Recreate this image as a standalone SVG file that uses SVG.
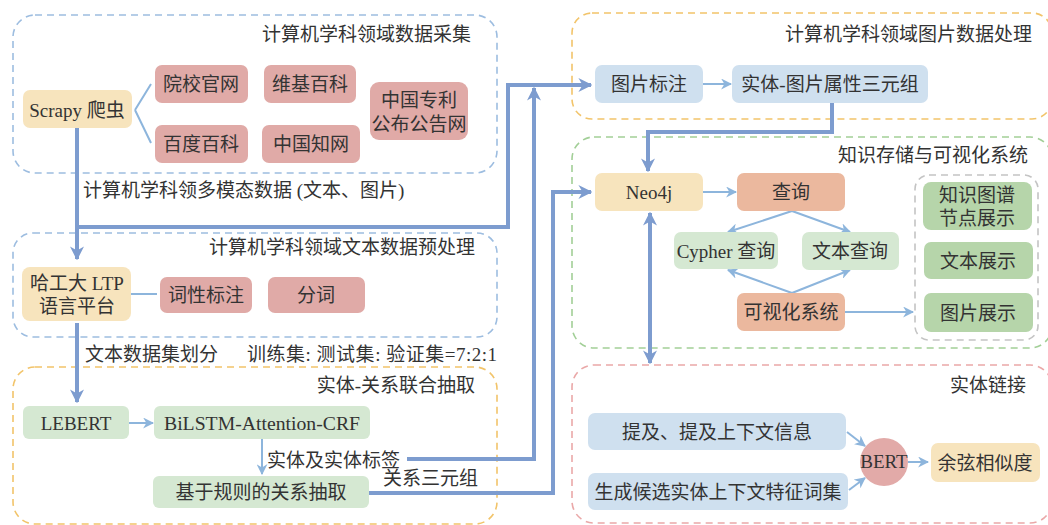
<svg xmlns="http://www.w3.org/2000/svg" width="1048" height="525" viewBox="0 0 1048 525">
  <defs>
    <marker id="thick" viewBox="0 0 10 10" refX="9" refY="5" markerWidth="14" markerHeight="14" markerUnits="userSpaceOnUse" orient="auto-start-reverse">
      <path d="M0,0 L10,5 L0,10 L3,5 Z" fill="#7d9ccf"/>
    </marker>
    <marker id="thin" viewBox="0 0 10 10" refX="9" refY="5" markerWidth="11" markerHeight="11" markerUnits="userSpaceOnUse" orient="auto">
      <path d="M0,0 L10,5 L0,10 L3,5 Z" fill="#8db5dc"/>
    </marker>
    <style>
      text { font-family: "Liberation Serif", "Noto Sans CJK SC", serif; font-size: 19px; fill: #333; }
      .c { text-anchor: middle; dominant-baseline: central; }
      .r { text-anchor: end; }
      .grp { fill: none; stroke-width: 1.6; stroke-dasharray: 7 5; }
      .g-blue { stroke: #9dbde0; }
      .g-orange { stroke: #f2c46a; }
      .g-green { stroke: #a2cf97; }
      .g-pink { stroke: #eaa8a8; }
      .g-gray { stroke: #c4c4c4; }
      .yellow { fill: #f7e4bd; }
      .red { fill: #e0aaa7; }
      .blue { fill: #cfe0ef; }
      .lgreen { fill: #d5e8d2; }
      .dgreen { fill: #b6d5aa; }
      .salmon { fill: #ebb89e; }
      .thick { fill: none; stroke: #7d9ccf; stroke-width: 4; }
      .thin { fill: none; stroke: #8db5dc; stroke-width: 2; }
    </style>
  </defs>

  <!-- section frames -->
  <g id="frames">
    <rect class="grp g-blue" x="13" y="15" width="484" height="158" rx="22"/>
    <text class="r" x="471" y="41">计算机学科领域数据采集</text>
    <rect class="grp g-blue" x="13" y="233" width="484" height="104" rx="20"/>
    <text class="r" x="475" y="254">计算机学科领域文本数据预处理</text>
    <rect class="grp g-orange" x="13" y="367" width="484" height="157" rx="22"/>
    <text class="r" x="475" y="392">实体-关系联合抽取</text>
    <rect class="grp g-orange" x="572" y="13" width="480" height="106" rx="20"/>
    <text class="r" x="1032" y="41">计算机学科领域图片数据处理</text>
    <rect class="grp g-green" x="572" y="137" width="480" height="211" rx="22"/>
    <text class="r" x="1028" y="162">知识存储与可视化系统</text>
    <rect class="grp g-gray" x="915" y="175" width="123" height="165" rx="14"/>
    <rect class="grp g-pink" x="572" y="365" width="480" height="158" rx="22"/>
    <text class="r" x="1026" y="392">实体链接</text>
  </g>

  <!-- connectors -->
  <g id="connectors">
    <path class="thin" d="M135,110 L151,84 M135,110 L151,143"/>
    <path class="thin" d="M131,294 L157,294"/>
    <path class="thick" d="M77,128 L77,259" marker-end="url(#thick)"/>
    <path class="thick" d="M77,227 L508,227 L508,85 L591,85" marker-end="url(#thick)"/>
    <path class="thick" d="M77,323 L77,402" marker-end="url(#thick)"/>
    <path class="thin" d="M129,423 L153,423" marker-end="url(#thin)"/>
    <path class="thin" d="M262,439 L262,474" marker-end="url(#thin)"/>
    <path class="thick" d="M407,459 L534,459 L534,88" marker-end="url(#thick)"/>
    <path class="thick" d="M368,493 L553,493 L553,192 L591,192" marker-end="url(#thick)"/>
    <path class="thin" d="M703,84 L731,84" marker-end="url(#thin)"/>
    <path class="thick" d="M832,103 L832,132 L648,132 L648,171" marker-end="url(#thick)"/>
    <path class="thin" d="M703,192 L736,192" marker-end="url(#thin)"/>
    <path class="thin" d="M792,211 L728,232" marker-end="url(#thin)"/>
    <path class="thin" d="M792,211 L850,232" marker-end="url(#thin)"/>
    <path class="thin" d="M792,293 L728,270" marker-end="url(#thin)"/>
    <path class="thin" d="M792,293 L850,270" marker-end="url(#thin)"/>
    <path class="thin" d="M845,312 L913,312" marker-end="url(#thin)"/>
    <path class="thick" d="M650,213 L650,363" marker-start="url(#thick)" marker-end="url(#thick)"/>
    <path class="thin" d="M847,432 L865,446" marker-end="url(#thin)"/>
    <path class="thin" d="M849,490 L865,478" marker-end="url(#thin)"/>
    <path class="thin" d="M908,462 L928,462" marker-end="url(#thin)"/>
    <text x="83" y="197">计算机学科领多模态数据 (文本、图片)</text>
    <text x="85" y="361">文本数据集划分</text>
    <text x="247" y="361" textLength="250" lengthAdjust="spacing">训练集: 测试集: 验证集=7:2:1</text>
    <text x="267" y="467">实体及实体标签</text>
    <text x="383" y="485">关系三元组</text>
  </g>

  <!-- data collection -->
  <g id="scrapy"><rect class="yellow" x="23" y="90" width="109" height="38" rx="7"/><text class="c" x="77" y="110">Scrapy 爬虫</text></g>
  <g id="n-college"><rect class="red" x="155" y="65" width="93" height="38" rx="7"/><text class="c" x="201" y="84">院校官网</text></g>
  <g id="n-wiki"><rect class="red" x="264" y="65" width="92" height="38" rx="7"/><text class="c" x="310" y="84">维基百科</text></g>
  <g id="n-baidu"><rect class="red" x="155" y="125" width="93" height="38" rx="7"/><text class="c" x="201" y="144">百度百科</text></g>
  <g id="n-cnki"><rect class="red" x="262" y="125" width="98" height="38" rx="7"/><text class="c" x="311" y="144">中国知网</text></g>
  <g id="n-patent"><rect class="red" x="370" y="82" width="98" height="58" rx="9"/><text class="c" x="419" y="100">中国专利</text><text class="c" x="419" y="124">公布公告网</text></g>

  <!-- text preprocessing -->
  <g id="ltp"><rect class="yellow" x="22" y="267" width="109" height="54" rx="8"/><text class="c" x="77" y="283">哈工大 LTP</text><text class="c" x="77" y="306">语言平台</text></g>
  <g id="pos"><rect class="red" x="160" y="277" width="92" height="36" rx="7"/><text class="c" x="206" y="295">词性标注</text></g>
  <g id="seg"><rect class="red" x="268" y="277" width="97" height="36" rx="7"/><text class="c" x="316" y="295">分词</text></g>

  <!-- joint extraction -->
  <g id="lebert"><rect class="lgreen" x="23" y="406" width="106" height="33" rx="6"/><text class="c" x="76" y="423">LEBERT</text></g>
  <g id="bilstm"><rect class="lgreen" x="154" y="406" width="216" height="33" rx="6"/><text class="c" x="262" y="423" textLength="196" lengthAdjust="spacingAndGlyphs">BiLSTM-Attention-CRF</text></g>
  <g id="rule"><rect class="lgreen" x="153" y="476" width="216" height="32" rx="6"/><text class="c" x="261" y="492">基于规则的关系抽取</text></g>

  <!-- image processing -->
  <g id="img-label"><rect class="blue" x="595" y="65" width="108" height="38" rx="7"/><text class="c" x="649" y="84">图片标注</text></g>
  <g id="img-triple"><rect class="blue" x="732" y="65" width="196" height="38" rx="7"/><text class="c" x="830" y="84">实体-图片属性三元组</text></g>

  <!-- storage and visualization -->
  <g id="neo4j"><rect class="yellow" x="595" y="173" width="108" height="38" rx="7"/><text class="c" x="649" y="192">Neo4j</text></g>
  <g id="query"><rect class="salmon" x="737" y="173" width="108" height="38" rx="7"/><text class="c" x="791" y="192">查询</text></g>
  <g id="cypher"><rect class="lgreen" x="674" y="232" width="104" height="37" rx="7"/><text class="c" x="726" y="251">Cypher 查询</text></g>
  <g id="text-query"><rect class="lgreen" x="802" y="232" width="97" height="38" rx="7"/><text class="c" x="850" y="251">文本查询</text></g>
  <g id="vis"><rect class="salmon" x="737" y="293" width="108" height="38" rx="7"/><text class="c" x="791" y="312">可视化系统</text></g>
  <g id="kg-show"><rect class="dgreen" x="923" y="182" width="109" height="48" rx="8"/><text class="c" x="977" y="195">知识图谱</text><text class="c" x="977" y="218">节点展示</text></g>
  <g id="text-show"><rect class="dgreen" x="924" y="242" width="109" height="37" rx="7"/><text class="c" x="978" y="261">文本展示</text></g>
  <g id="img-show"><rect class="dgreen" x="924" y="293" width="109" height="39" rx="7"/><text class="c" x="978" y="313">图片展示</text></g>

  <!-- entity linking -->
  <g id="mention"><rect class="blue" x="588" y="413" width="258" height="37" rx="7"/><text class="c" x="717" y="432">提及、提及上下文信息</text></g>
  <g id="candidate"><rect class="blue" x="588" y="473" width="260" height="37" rx="7"/><text class="c" x="718" y="492">生成候选实体上下文特征词集</text></g>
  <g id="bert"><circle cx="884" cy="462" r="24" fill="#e2aaa8"/><text class="c" x="884" y="461">BERT</text></g>
  <g id="cosine"><rect class="yellow" x="931" y="443" width="109" height="39" rx="7"/><text class="c" x="985" y="463">余弦相似度</text></g>
</svg>
